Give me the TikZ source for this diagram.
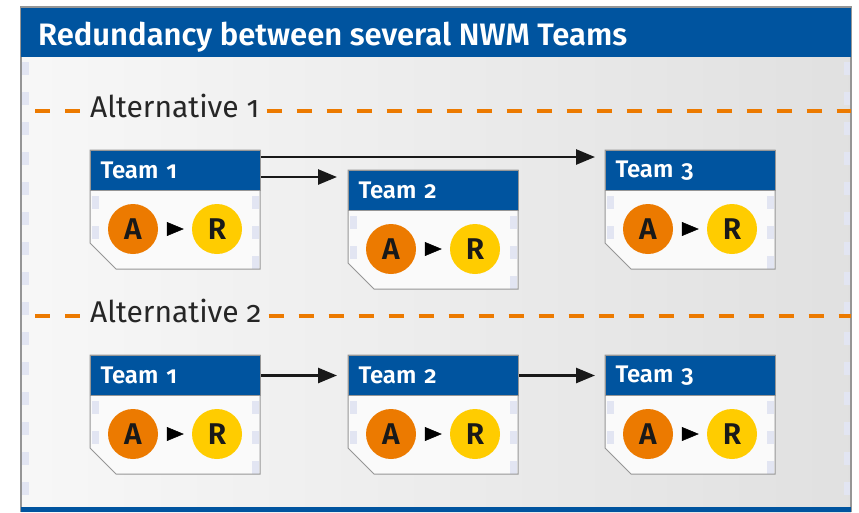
\documentclass[tikz,border=0pt]{standalone}
\usepackage{fontspec}
\setmainfont{Fira Sans}[Numbers=OldStyle, BoldFont={Fira Sans SemiBold}]
\usetikzlibrary{calc, arrows.meta, positioning}
\definecolor{nwmblue}{RGB}{0,84,159}
\definecolor{nwmorange}{RGB}{236,122,0}
\definecolor{nwmyellow}{RGB}{255,204,0}
\definecolor{framegray}{RGB}{150,150,150}
\definecolor{markblue}{RGB}{226,229,242}

\begin{document}
\begin{tikzpicture}[x=1pt, y=-1pt]
            \tikzset{teamhead/.style = {anchor=north west, fill=nwmblue, draw=framegray, line width=1pt, minimum height=40pt, text width=150pt, inner xsep=10pt, inner ysep=0pt, align=left, text=white, font=\fontsize{24}{24}\selectfont\bfseries}}
            \tikzset{teambody/.style = {fill=white!98!black}}
            \tikzset{teamline/.style = {draw=framegray, line width=1pt}}
            \tikzset{marks/.style = {draw=markblue, line width=7pt, dash pattern=on 13pt off 17pt}}
            \tikzset{person/.style = {shape=circle, minimum size=50pt, inner sep=0pt, text=black!90, font=\fontsize{30}{30}\selectfont\bfseries}}
            \tikzset{tiparrow/.style = {-{Triangle[length=17pt,width=14pt]}, line width=0.5pt, shorten <=9pt, shorten >=8pt}}
            \tikzset{link/.style = {-{Triangle[length=19pt,width=15pt]}, line width=2.6pt, black!90}}
            \tikzset{altline/.style = {draw=nwmorange, line width=4.5pt, dash pattern=on 15pt off 15pt}}
            \tikzset{alttext/.style = {anchor=base west, inner xsep=7pt, text=black!85, font=\fontsize{30}{30}\selectfont}}
            \useasboundingbox (0,0) rectangle (859,512);
            % frame
            \shade[left color=white!97!black, right color=black!12] (21,7) rectangle (851,512);
            \draw[marks] (25,62) -- (25,507);
            \draw[marks] (847,62) -- (847,507);
            \draw[framegray, line width=2pt] (21,512) -- (21,7) -- (851,7) -- (851,512);
            \fill[nwmblue] (21,8) rectangle (851,57);
            \fill[nwmblue] (21,507) rectangle (851,512);
            \node[anchor=base west, inner sep=0pt, text=white, font=\fontsize{31}{31}\selectfont\bfseries] (title) at (38,45) {Redundancy between several NWM Teams};
            % alternatives
            \coordinate (l1) at (35,111);
            \coordinate (r1) at (851,111);
            \node[alttext] (alt1) at (83,117) {Alternative 1};
            \draw[altline] (l1) -- (l1 -| alt1.west);
            \draw[altline] (alt1.east |- r1) -- (r1);
            \coordinate (l2) at (35,316);
            \coordinate (r2) at (851,316);
            \node[alttext] (alt2) at (83,322) {Alternative 2};
            \draw[altline] (l2) -- (l2 -| alt2.west);
            \draw[altline] (alt2.east |- r2) -- (r2);
            % teams
            \foreach \n/\x/\y/\t in {t11/90/150/1, t12/348/170/2, t13/605/150/3, t21/90/355/1, t22/348/355/2, t23/605/355/3} {
              \fill[teambody] (\x,\y) -- ++(170,0) -- ++(0,119) -- ++(-144,0) -- ++(-26,-26) -- cycle;
              \draw[marks] (\x+5,\y+46) -- (\x+5,\y+93);
              \draw[marks] (\x+165,\y+46) -- (\x+165,\y+119);
              \draw[teamline] (\x,\y) -- ++(170,0) -- ++(0,119) -- ++(-144,0) -- ++(-26,-26) -- cycle;
              \node[teamhead] (\n) at (\x,\y) {Team \t};
              \node[person, fill=nwmorange] (\n a) at (\x+43,\y+79) {A};
              \node[person, fill=nwmyellow] (\n r) at (\x+127,\y+79) {R};
              \draw[tiparrow] (\n a) -- (\n r);
            }
            % links
            \coordinate (s1) at ([yshift=-7pt]t11.north east);
            \coordinate (s2) at ([yshift=-27pt]t11.north east);
            \draw[link, shorten >=10pt] (s1) -- (s1 -| t13.west);
            \draw[link, shorten >=11pt] (s2) -- (s2 -| t12.west);
            \draw[link, shorten >=11pt] (t21.east) -- (t22.west);
            \draw[link, shorten >=10pt] (t22.east) -- (t23.west);
          \end{tikzpicture}
\end{document}
